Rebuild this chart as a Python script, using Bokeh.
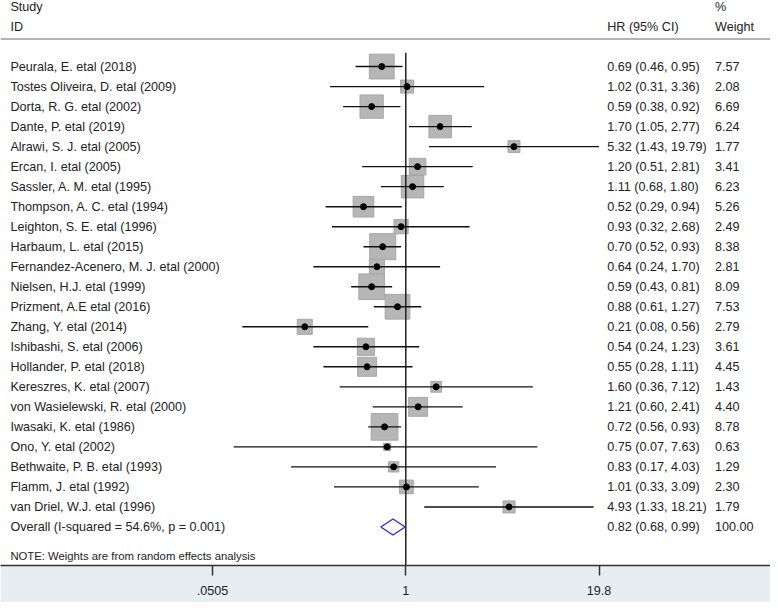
import math
from bokeh.plotting import figure
from bokeh.models import Range1d, Span, FixedTicker, ColumnDataSource
from bokeh.core.properties import value
from bokeh.embed import file_html
from bokeh.resources import INLINE

# ---------------- data ----------------
studies = [
    "Peurala, E. etal (2018)",
    "Tostes Oliveira, D. etal (2009)",
    "Dorta, R. G. etal (2002)",
    "Dante, P. etal (2019)",
    "Alrawi, S. J. etal (2005)",
    "Ercan, I. etal (2005)",
    "Sassler, A. M. etal (1995)",
    "Thompson, A. C. etal (1994)",
    "Leighton, S. E. etal (1996)",
    "Harbaum, L. etal (2015)",
    "Fernandez-Acenero, M. J. etal (2000)",
    "Nielsen, H.J. etal (1999)",
    "Prizment, A.E etal (2016)",
    "Zhang, Y. etal (2014)",
    "Ishibashi, S. etal (2006)",
    "Hollander, P. etal (2018)",
    "Kereszres, K. etal (2007)",
    "von Wasielewski, R. etal (2000)",
    "Iwasaki, K. etal (1986)",
    "Ono, Y. etal (2002)",
    "Bethwaite, P. B. etal (1993)",
    "Flamm, J. etal (1992)",
    "van Driel, W.J. etal (1996)",
]
hr = [0.69, 1.02, 0.59, 1.70, 5.32, 1.20, 1.11, 0.52, 0.93, 0.70, 0.64, 0.59,
      0.88, 0.21, 0.54, 0.55, 1.60, 1.21, 0.72, 0.75, 0.83, 1.01, 4.93]
lo = [0.46, 0.31, 0.38, 1.05, 1.43, 0.51, 0.68, 0.29, 0.32, 0.52, 0.24, 0.43,
      0.61, 0.08, 0.24, 0.28, 0.36, 0.60, 0.56, 0.07, 0.17, 0.33, 1.33]
hi = [0.95, 3.36, 0.92, 2.77, 19.79, 2.81, 1.80, 0.94, 2.68, 0.93, 1.70, 0.81,
      1.27, 0.56, 1.23, 1.11, 7.12, 2.41, 0.93, 7.63, 4.03, 3.09, 18.21]
weight = [7.57, 2.08, 6.69, 6.24, 1.77, 3.41, 6.23, 5.26, 2.49, 8.38, 2.81, 8.09,
          7.53, 2.79, 3.61, 4.45, 1.43, 4.40, 8.78, 0.63, 1.29, 2.30, 1.79]

overall_label = "Overall  (I-squared = 54.6%, p = 0.001)"
overall_hr = 0.82
overall_lo = 0.68
overall_hi = 0.99
overall_weight = 100.00

note_text = "NOTE: Weights are from random effects analysis"
tick_values = [0.0505, 1, 19.8]
tick_labels = [".0505", "1", "19.8"]

# ---------------- layout helpers ----------------
W, H = 770, 602
ONE_PX, LN_PX = 409.5, 65.4          # reference pixel of HR=1, pixels per ln unit
ROW0_PX, ROW_PX = 67.0, 20.3          # reference pixel of first row, row spacing
FRAME_BOTTOM_PX = 573.0

def xpx(px):
    return math.exp((px - ONE_PX) / LN_PX)

def ypx(py):
    return (py - ROW0_PX) / ROW_PX

FONT = value("Liberation Sans")
TXT = "#222222"
FS = "12.6px"

p = figure(width=W, height=H, x_axis_type="log", y_axis_location=None,
           x_range=Range1d(xpx(0), xpx(778)),
           y_range=Range1d(ypx(FRAME_BOTTOM_PX), ypx(0)),
           toolbar_location=None, output_backend="svg",
           min_border_left=0, min_border_right=0, min_border_top=0,
           min_border_bottom=37)
p.xgrid.visible = False
p.ygrid.visible = False
p.outline_line_color = None
p.background_fill_color = "white"
p.border_fill_color = "#e6eef3"

n = len(studies)
rows = list(range(n))
src = ColumnDataSource(dict(
    study=studies, hr=hr, lo=lo, hi=hi, w=weight, row=rows,
    size=[9.0 * math.sqrt(v) for v in weight],
    ci=[f"{a:.2f} ({b:.2f}, {c:.2f})" for a, b, c in zip(hr, lo, hi)],
    wt=[f"{v:.2f}" for v in weight],
    xl=[xpx(10)] * n, xc=[xpx(613)] * n, xw=[xpx(722)] * n,
))

# weight squares
p.scatter("hr", "row", source=src, marker="square", size="size",
          fill_color="#b6b6b6", line_color="#a6a6a6", line_width=1)

# null line
p.segment(x0=[1], x1=[1], y0=[ypx(53)], y1=[ypx(FRAME_BOTTOM_PX)],
          line_color="#222222", line_width=1.5)

# confidence intervals and points
p.segment(x0="lo", x1="hi", y0="row", y1="row", source=src,
          line_color="#111111", line_width=1.4)
p.scatter("hr", "row", source=src, marker="circle", size=6,
          fill_color="black", line_color="black")

# overall diamond
orow = n
p.patch(x=[overall_lo, overall_hr, overall_hi, overall_hr],
        y=[orow, orow - 0.4, orow, orow + 0.4],
        fill_alpha=0, line_color="#2a2ad4", line_width=1.3)

# header line
p.add_layout(Span(location=ypx(39), dimension="width",
                  line_color="#9a9a9a", line_width=1.5))

# text columns
tk = dict(text_font=FONT, text_font_size=FS, text_color=TXT,
          text_baseline="middle", text_align="left")
p.text("xl", "row", text="study", source=src, **tk)
p.text("xc", "row", text="ci", source=src, **tk)
p.text("xw", "row", text="wt", source=src, **tk)

p.text(x=[xpx(10)], y=[orow], text=[overall_label], **tk)
p.text(x=[xpx(613)], y=[orow], text=[f"{overall_hr:.2f} ({overall_lo:.2f}, {overall_hi:.2f})"], **tk)
p.text(x=[xpx(722)], y=[orow], text=[f"{overall_weight:.2f}"], **tk)

# headers
p.text(x=[xpx(10), xpx(10), xpx(613), xpx(722), xpx(722)],
       y=[ypx(7), ypx(27), ypx(27), ypx(7), ypx(27)],
       text=["Study", "ID", "HR (95% CI)", "%", "Weight"], **tk)

# note
p.text(x=[xpx(10)], y=[ypx(563)], text=[note_text],
       text_font=FONT, text_font_size="11.3px", text_color=TXT,
       text_baseline="middle", text_align="left")

# axis
ax = p.xaxis[0]
ax.ticker = FixedTicker(ticks=tick_values, minor_ticks=[])
ax.major_label_overrides = {v: lab for v, lab in zip(tick_values, tick_labels)}
ax.axis_line_color = "#333333"
ax.axis_line_width = 1.5
ax.major_tick_line_color = "#333333"
ax.major_tick_line_width = 1.5
ax.major_tick_in = 0
ax.major_tick_out = 10
ax.minor_tick_line_color = None
ax.major_label_standoff = 10
ax.major_label_text_font = "Liberation Sans"
ax.major_label_text_font_size = "12.6px"
ax.major_label_text_font_style = "normal"
ax.major_label_text_color = TXT

open("out.html", "w").write(file_html(p, INLINE))
